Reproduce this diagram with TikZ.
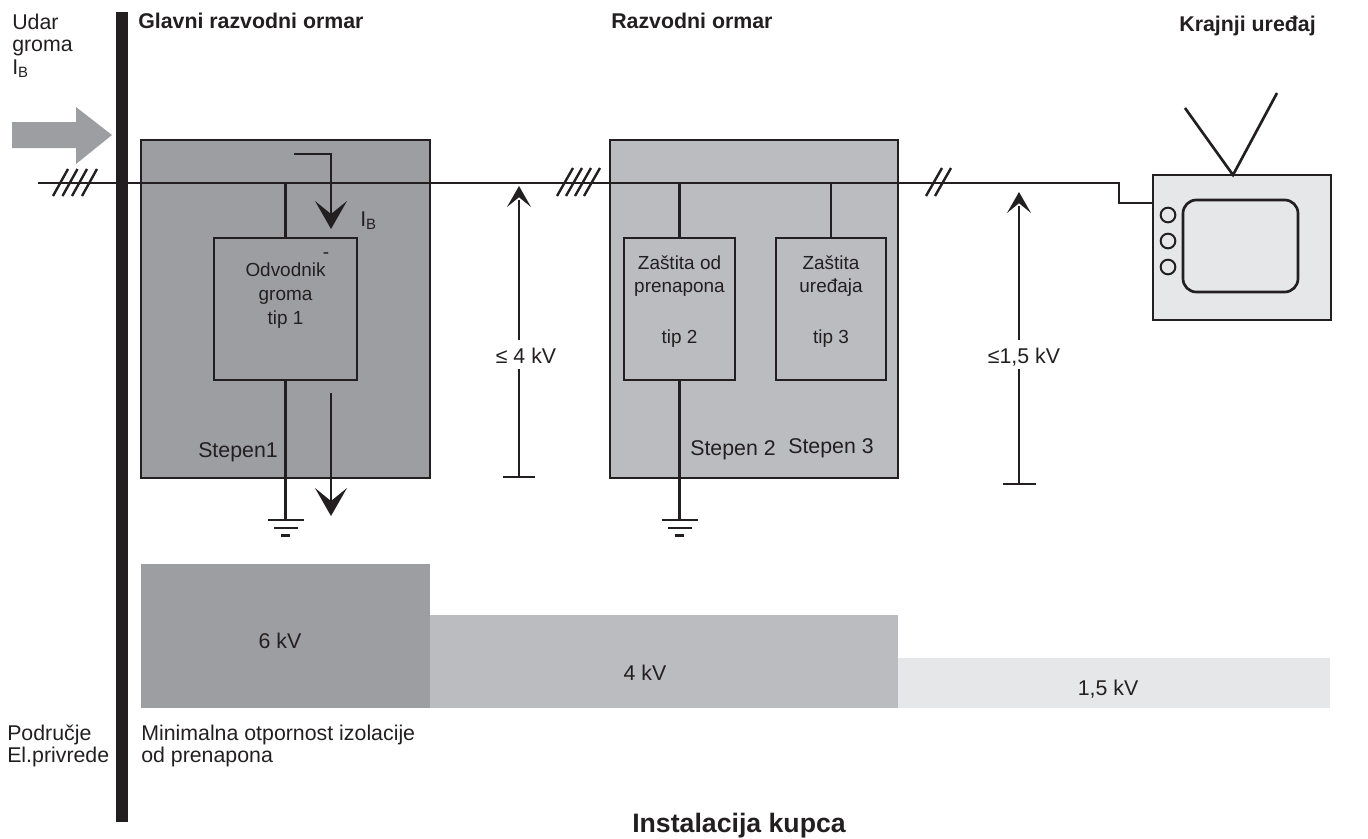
\documentclass[tikz,border=0pt]{standalone}
\usepackage{fontspec}
\setmainfont{Liberation Sans}
\usetikzlibrary{calc}
\definecolor{ink}{HTML}{231F20}
\definecolor{gA}{HTML}{9D9EA1}
\definecolor{gB}{HTML}{BBBCBF}
\definecolor{gC}{HTML}{E6E7E8}
\newcommand{\sz}{\fontsize{16pt}{16pt}\selectfont}
\newcommand{\szi}{\fontsize{14.2pt}{17.8pt}\selectfont}
\newcommand{\szb}{\fontsize{16pt}{16pt}\selectfont\bfseries}
\tikzset{
  wire/.style={draw=ink,line width=2pt},
  thinwire/.style={draw=ink,line width=2pt},
  cabinet/.style={draw=ink,line width=2pt,inner sep=0pt,outer sep=0pt},
  block/.style={draw=ink,line width=2pt,inner sep=0pt,outer sep=0pt},
  band/.style={inner sep=0pt,outer sep=0pt},
  lbl/.style={text=ink,font=\sz,inner sep=0pt,align=center},
  lbll/.style={text=ink,font=\sz,inner sep=0pt,align=left},
  lbli/.style={text=ink,font=\szi,inner sep=0pt,align=center},
  head/.style={text=ink,font=\szb,inner sep=0pt},
  hatch/.style={draw=ink,line width=1.8pt},
}
\newcommand{\tip}[3]{\fill[ink] (#1,#2) -- (#1-#3*16,#2-#3*28) -- (#1,#2-#3*15) -- (#1+#3*16,#2-#3*28) -- cycle;}
\newcommand{\gnd}[2]{
  \draw[thinwire] (#1-18,#2) -- (#1+18,#2);
  \draw[thinwire] (#1-12,#2+8) -- (#1+12,#2+8);
  \draw[thinwire] (#1-4.5,#2+15.5) -- (#1+4.5,#2+15.5);}
\begin{document}
\begin{tikzpicture}[x=0.75pt,y=-0.75pt]
\useasboundingbox (0,0) rectangle (1368,839);
% bands
\node[band,fill=gA,minimum width=216.75pt,minimum height=108pt,anchor=north west] (bandA) at (141,564) {};
\node[band,fill=gB,minimum width=351pt,minimum height=69.75pt,anchor=north west] (bandB) at (430,615) {};
\node[band,fill=gC,minimum width=324pt,minimum height=37.5pt,anchor=north west] (bandC) at (898,658) {};
% cabinets
\node[cabinet,fill=gA,minimum width=216.75pt,minimum height=253.5pt,anchor=north west] (cabA) at (141,140) {};
\node[cabinet,fill=gB,minimum width=216pt,minimum height=253.5pt,anchor=north west] (cabB) at (610,140) {};
% blocks
\node[block,minimum width=107.25pt,minimum height=106.5pt,anchor=north west] (b1) at (214,238) {};
\node[block,minimum width=83.25pt,minimum height=106.5pt,anchor=north west] (b2) at (624,238) {};
\node[block,minimum width=82.5pt,minimum height=106.5pt,anchor=north west] (b3) at (776,238) {};
% TV
\node[cabinet,fill=gC,minimum width=133.5pt,minimum height=108.75pt,anchor=north west] (tv) at (1153,175) {};
\node[block,rounded corners=10pt,minimum width=86.25pt,minimum height=69pt,anchor=north west] (screen) at (1183,200) {};
\node[block,circle,line width=1.5pt,minimum size=11pt] (k1) at (1168,215) {};
\node[block,circle,line width=1.5pt,minimum size=11pt] (k2) at (1168,241) {};
\node[block,circle,line width=1.5pt,minimum size=11pt] (k3) at (1168,267) {};
\coordinate (ant) at (1233,175);
\coordinate (antL) at (1185,108);
\coordinate (antR) at (1277,93);
\draw[thinwire] (antL) -- (ant) -- (antR);
% bar
\fill[ink] (116,12) rectangle (128,822);
% incoming arrow
\fill[gA] (12,122) -- (76,122) -- (76,107) -- (112,135) -- (76,164) -- (76,148) -- (12,148) -- cycle;
% main line
\coordinate (lineL) at (38,183);
\coordinate (lineR) at (1119,183);
\coordinate (lineD) at (1119,203);
\draw[wire] (lineL) -- (lineR) -- (lineD) -- (lineD -| tv.west);
% hatches
\foreach \x in {53,62.5,72,82}{\draw[hatch] (\x,196) -- (\x+15,169);}
\foreach \x in {557,566,575,584}{\draw[hatch] (\x,196) -- (\x+16,168);}
\foreach \x in {926,935}{\draw[hatch] (\x,196) -- (\x+16,168);}
% branches
\draw[wire] (b1.north) -- (b1.north |- lineL);
\draw[wire] (b2.north) -- (b2.north |- lineL);
\draw[wire] (b3.north) -- (b3.north |- lineL);
\coordinate (g1) at (285.5,520);
\coordinate (g2) at (679.5,520);
\draw[wire] (b1.south) -- (g1);
\draw[wire] (b2.south) -- (g2);
\gnd{285.5}{520}
\gnd{679.5}{520}
% current arrows
\coordinate (i1) at (294,154);
\coordinate (i2) at (331,154);
\coordinate (i3) at (331,215);
\coordinate (o1) at (331,393);
\coordinate (o2) at (331,502);
\draw[thinwire] (i1) -- (i2) -- (i3);
\tip{331}{229}{1}
\draw[thinwire] (o1) -- (o2);
\tip{331}{516}{1}
% voltage arrows (interrupted behind their labels)
\coordinate (v1a) at (519,477);
\coordinate (v1b) at (519,200);
\coordinate (v2a) at (1019,484);
\coordinate (v2b) at (1019,206);
\draw[thinwire] (v1a) -- (519,369);
\draw[thinwire] (519,340) -- (v1b);
\draw[thinwire] (503,477) -- (535,477);
\tip{519}{186}{-0.75}
\draw[thinwire] (v2a) -- (1019,369);
\draw[thinwire] (1019,340) -- (v2b);
\draw[thinwire] (1003,484) -- (1036,484);
\tip{1019}{192}{-0.75}
% texts
\node[lbll,anchor=north west] (t1) at (12,14) {Udar\\[0.5pt]groma\\[1pt]I\textsubscript{B}};
\node[head,anchor=base west] (t2) at (138,28) {Glavni razvodni ormar};
\node[head,anchor=base west] (t3) at (611,28) {Razvodni ormar};
\node[head,anchor=base east] (t4) at (1316,31) {Krajnji uređaj};
\node[lbl,anchor=base west] (t5) at (360,226) {I\textsubscript{B}};
\node[lbl,font=\szi] (t6) at (326,256) {-};
\node[lbli,anchor=north] (t7) at (285.5,263) {Odvodnik\\groma\\tip 1};
\node[lbli,anchor=north] (t8) at (679.5,255) {Zaštita od\\prenapona};
\node[lbli,anchor=base] (t9) at (679.5,343) {tip 2};
\node[lbli,anchor=north] (t10) at (831,255) {Zaštita\\uređaja};
\node[lbli,anchor=base] (t11) at (831,343) {tip 3};
\node[lbl,anchor=base west] (t12) at (198,457) {Stepen1};
\node[lbl,anchor=base west] (t13) at (690,455) {Stepen 2};
\node[lbl,anchor=base west] (t14) at (788,453) {Stepen 3};
\node[lbl,anchor=base] (t15) at (526,363) {≤ 4 kV};
\node[lbl,anchor=base] (t16) at (1024,363) {≤1,5 kV};
\node[lbl,anchor=base] (t17) at (280,648) {6 kV};
\node[lbl,anchor=base] (t18) at (645,680) {4 kV};
\node[lbl,anchor=base] (t19) at (1108,695) {1,5 kV};
\node[lbll,anchor=north west] (t20) at (7,725) {Područje\\El.privrede};
\node[lbll,anchor=north west] (t21) at (141,725) {Minimalna otpornost izolacije\\od prenapona};
\node[text=ink,font=\fontsize{20pt}{20pt}\selectfont\bfseries,inner sep=0pt,anchor=base] (t22) at (739,832) {Instalacija kupca};
\end{tikzpicture}
\end{document}
